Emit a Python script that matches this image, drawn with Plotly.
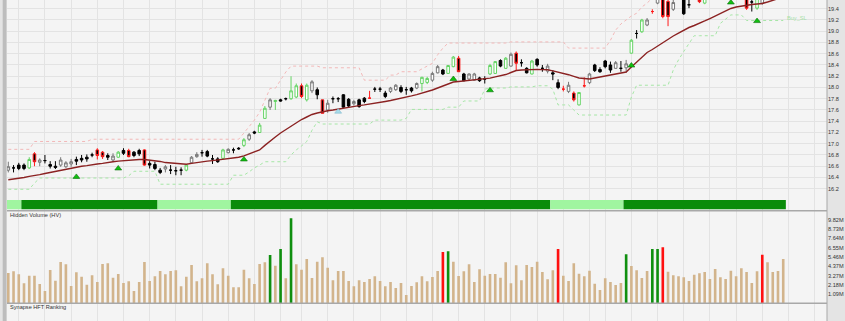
import plotly.graph_objects as go

# ---------------- data ----------------
opens = [16.53,16.57,16.62,16.62,16.57,16.82,16.67,16.70,16.63,16.60,
         16.62,16.59,16.64,16.72,16.74,16.76,16.80,16.89,16.85,16.79,
         16.71,16.76,16.88,16.88,16.85,16.88,16.89,16.65,16.63,16.53,
         16.55,16.53,16.52,16.53,16.53,16.66,16.77,16.84,16.86,16.73,
         16.73,16.74,16.84,16.89,16.92,16.97,17.08,17.21,17.20,17.45,
         17.65,17.75,17.78,17.80,17.80,17.83,18.03,17.78,17.94,17.96,
         17.78,17.60,17.80,17.80,17.87,17.79,17.71,17.78,17.81,17.81,
         17.97,17.97,17.90,17.93,17.96,18.00,17.96,17.99,17.99,18.07,
         18.09,18.13,18.26,18.31,18.25,18.37,18.52,18.24,18.15,18.13,
         18.17,18.15,18.24,18.25,18.48,18.34,18.38,18.61,18.44,18.34,
         18.24,18.50,18.34,18.29,18.26,18.085,17.97,17.93,17.90,17.69,
         18.03,18.085,18.40,18.32,18.47,18.40,18.34,18.34,18.35,18.61,
         18.96,18.99,19.11,19.35,19.50,19.61,19.53,19.39,19.59,19.64,
         19.47,19.64,19.70,19.50,19.73,19.875,19.80,19.70,19.77,19.80,
         19.84,19.66,19.52,19.41,19.50,19.63,19.80,19.70,19.77]
highs = [16.68,16.62,16.66,16.65,16.76,16.85,16.74,16.80,16.69,16.69,
         16.76,16.69,16.73,16.77,16.80,16.81,16.84,16.92,16.87,16.83,
         16.83,16.87,16.92,16.91,16.87,16.91,16.90,16.69,16.68,16.57,
         16.62,16.62,16.59,16.58,16.64,16.78,16.85,16.89,16.89,16.80,
         16.76,16.91,16.92,16.93,16.94,17.10,17.19,17.23,17.37,17.67,
         17.81,17.78,17.80,17.82,18.20,18.07,18.07,18.07,18.13,18.00,
         17.78,17.78,17.84,17.83,17.88,17.81,17.78,17.80,17.83,17.94,
         18.01,18.01,17.94,18.01,18.06,18.04,18.01,18.01,18.09,18.19,
         18.19,18.28,18.40,18.33,18.40,18.56,18.56,18.26,18.25,18.26,
         18.19,18.20,18.42,18.47,18.50,18.54,18.62,18.64,18.50,18.36,
         18.49,18.52,18.40,18.42,18.31,18.145,18.03,18.10,17.93,17.92,
         18.18,18.26,18.42,18.36,18.49,18.46,18.47,18.47,18.49,18.86,
         19.02,19.22,19.235,19.39,19.70,19.66,19.59,19.555,19.80,19.70,
         19.61,19.875,19.73,19.73,19.98,19.95,20.02,19.95,20.02,19.98,
         19.91,19.73,19.66,19.70,19.70,19.84,19.875,19.95,20.02]
lows = [16.49,16.49,16.53,16.53,16.55,16.60,16.60,16.65,16.56,16.55,
        16.59,16.57,16.59,16.62,16.67,16.68,16.76,16.72,16.73,16.71,
        16.68,16.75,16.80,16.76,16.76,16.78,16.61,16.56,16.53,16.46,
        16.49,16.46,16.44,16.44,16.51,16.64,16.75,16.77,16.76,16.64,
        16.66,16.73,16.83,16.83,16.89,16.94,17.05,17.17,17.19,17.44,
        17.60,17.60,17.75,17.77,17.78,17.81,17.81,17.75,17.90,17.79,
        17.54,17.55,17.72,17.74,17.64,17.65,17.68,17.64,17.72,17.80,
        17.92,17.92,17.81,17.90,17.94,17.90,17.87,17.91,17.97,17.93,
        18.06,18.10,18.25,18.22,18.24,18.36,18.28,18.11,18.12,18.12,
        18.10,18.07,18.22,18.24,18.36,18.33,18.37,18.31,18.37,18.25,
        18.23,18.37,18.28,18.25,18.13,17.97,17.93,17.90,17.75,17.68,
        18.00,18.06,18.275,18.26,18.34,18.26,18.33,18.28,18.26,18.60,
        18.87,18.97,19.09,19.31,19.48,19.23,19.09,19.36,19.555,19.29,
        19.41,19.59,19.50,19.48,19.66,19.70,19.73,19.62,19.70,19.73,
        19.62,19.38,19.35,19.38,19.47,19.59,19.63,19.64,19.70]
closes = [16.59,16.57,16.56,16.56,16.72,16.68,16.71,16.70,16.60,16.58,
          16.71,16.66,16.68,16.69,16.71,16.73,16.80,16.79,16.77,16.76,
          16.78,16.85,16.83,16.77,16.79,16.82,16.62,16.62,16.56,16.49,
          16.59,16.53,16.52,16.53,16.62,16.76,16.81,16.84,16.78,16.73,
          16.68,16.89,16.90,16.89,16.91,17.07,17.16,17.19,17.33,17.63,
          17.78,17.77,17.76,17.80,17.94,18.03,17.84,18.04,18.10,17.87,
          17.54,17.72,17.80,17.80,17.65,17.67,17.75,17.66,17.75,17.81,
          17.97,17.97,17.84,17.99,18.04,17.93,17.96,17.94,18.07,18.18,
          18.16,18.25,18.37,18.24,18.39,18.54,18.28,18.12,18.24,18.24,
          18.12,18.15,18.39,18.46,18.38,18.52,18.59,18.43,18.44,18.26,
          18.47,18.40,18.34,18.38,18.24,18.00,17.97,18.04,17.78,17.91,
          18.03,18.24,18.30,18.28,18.37,18.31,18.44,18.34,18.42,18.84,
          18.96,19.20,19.20,19.35,19.64,19.26,19.26,19.51,19.73,19.31,
          19.47,19.82,19.525,19.70,19.91,19.77,19.95,19.91,19.98,19.91,
          19.70,19.41,19.52,19.66,19.63,19.77,19.66,19.875,19.95]
# candle style: U up, G up (signal), D down, X doji, R down (signal), RX doji (signal)
candle_style = ["U","X","D","D","G","R","U","X","D","D",
                "U","U","U","D","D","D","X","R","R","D",
                "U","G","D","R","D","D","R","D","D","D",
                "U","X","X","X","G","U","U","X","D","X",
                "D","G","U","X","D","G","U","D","G","G",
                "U","G","D","X","G","G","R","G","U","D",
                "R","U","X","X","D","D","U","D","D","RX",
                "X","X","D","U","U","D","X","D","U","G",
                "G","U","U","D","G","G","R","D","U","U",
                "D","X","G","G","D","G","U","R","X","D",
                "G","D","X","U","D","D","RX","U","R","G",
                "RX","U","D","D","D","D","U","X","U","G",
                "X","G","U","RX","U","R","R","U","U","D",
                "X","U","R","G","U","D","U","G","G","U",
                "D","R","X","G","U","U","D","U","U"]
moving_avg = [16.36,16.37,16.39,16.40,16.42,16.43,16.45,16.47,16.49,16.51,
              16.52,16.54,16.56,16.58,16.60,16.61,16.63,16.64,16.65,16.67,
              16.68,16.69,16.70,16.705,16.715,16.72,16.72,16.71,16.70,16.685,
              16.665,16.655,16.645,16.635,16.635,16.65,16.665,16.685,16.69,16.70,
              16.71,16.72,16.73,16.74,16.76,16.785,16.817,16.85,16.89,16.97,
              17.05,17.12,17.19,17.253,17.315,17.374,17.43,17.475,17.52,17.546,
              17.573,17.587,17.60,17.617,17.635,17.653,17.665,17.678,17.69,17.703,
              17.715,17.733,17.751,17.768,17.786,17.804,17.827,17.85,17.873,17.896,
              17.919,17.955,17.99,18.026,18.062,18.097,18.106,18.115,18.124,18.131,
              18.138,18.145,18.167,18.188,18.209,18.23,18.266,18.302,18.311,18.318,
              18.323,18.321,18.318,18.314,18.296,18.277,18.257,18.227,18.198,18.168,
              18.159,18.15,18.168,18.186,18.20,18.216,18.23,18.252,18.275,18.364,
              18.453,18.542,18.622,18.675,18.737,18.80,18.862,18.915,18.968,19.022,
              19.066,19.102,19.137,19.182,19.226,19.271,19.315,19.359,19.404,19.431,
              19.448,19.466,19.475,19.484,19.493,19.519,19.546,19.573,19.608]
upper_stop = [16.90,16.90,16.90,16.90,16.90,17.04,17.04,17.04,17.04,17.04,
              17.04,17.04,17.04,17.04,17.04,17.04,17.08,17.08,17.08,17.08,
              17.08,17.08,17.08,17.08,17.08,17.08,17.08,17.08,17.08,17.08,
              17.08,17.08,17.08,17.08,17.08,17.08,17.08,17.08,17.08,17.08,
              17.08,17.08,17.08,17.08,17.08,17.19,17.30,17.42,17.56,17.78,
              17.985,17.985,18.13,18.275,18.38,18.38,18.38,18.38,18.38,18.38,
              18.35,18.35,18.35,18.35,18.35,18.35,18.35,18.35,18.13,18.13,
              18.13,18.13,18.13,18.22,18.22,18.28,18.28,18.28,18.28,18.33,
              18.38,18.43,18.58,18.70,18.79,18.79,18.79,18.79,18.79,18.79,
              18.79,18.79,18.79,18.79,18.79,18.79,18.81,18.81,18.81,18.81,
              18.81,18.81,18.81,18.81,18.81,18.81,18.81,18.70,18.70,18.70,
              18.70,18.70,18.70,18.70,18.70,18.84,19.02,19.13,19.20,19.27,
              19.32,19.43,19.50,19.59,19.65,19.72,None,None,None,None,
              None,None,None,None,None,None,None,None,None,None,
              None,None,None,None,None,None,None,None,None]
buy_sl = [16.19,16.19,16.19,16.19,16.19,16.30,16.39,16.39,16.39,16.39,
          16.39,16.39,16.39,16.39,16.39,16.39,16.39,16.39,16.39,16.39,
          16.39,16.39,16.39,16.43,16.51,16.51,16.51,16.51,16.51,16.28,
          16.28,16.28,16.28,16.28,16.28,16.28,16.28,16.28,16.28,16.28,
          16.28,16.28,16.28,16.44,16.44,16.44,16.50,16.57,16.62,16.68,
          16.68,16.68,16.68,16.68,16.80,16.89,16.96,17.04,17.24,17.39,
          17.35,17.35,17.35,17.35,17.35,17.35,17.35,17.35,17.35,17.35,
          17.42,17.42,17.42,17.42,17.42,17.42,17.45,17.61,17.61,17.61,
          17.61,17.61,17.61,17.61,17.65,17.65,17.65,17.76,17.76,17.76,
          17.76,17.97,17.99,17.99,17.99,17.99,18.01,18.01,18.01,18.01,
          18.01,18.03,18.03,18.03,17.97,17.69,17.69,17.69,17.60,17.51,
          17.51,17.51,17.51,17.51,17.51,17.51,17.51,17.51,17.51,17.83,
          18.04,18.04,18.04,18.04,18.04,18.04,18.04,18.31,18.49,18.64,
          18.77,18.92,18.92,18.92,18.92,18.92,19.14,19.22,19.29,19.29,
          19.29,19.19,19.19,19.19,19.19,19.19,19.19,19.19,19.19]
buy_arrow_idx = [13, 21, 45, 85, 92, 119, 138, 143]
buy_arrow_px = [16.41, 16.56, 16.72, 18.15, 17.95, 18.39, 19.51, 19.18]
alt_arrow_idx = [63]
alt_arrow_px = [17.57]
volume_m = [3.57,3.77,3.42,2.36,3.26,3.26,2.28,1.45,3.93,2.67,
            4.87,4.60,2.04,3.66,3.14,2.19,3.30,2.51,4.64,4.72,
            3.02,3.46,2.39,2.59,1.45,2.51,4.87,2.63,3.18,3.81,
            3.42,3.81,3.89,2.01,3.14,4.52,2.59,2.95,4.72,3.42,
            2.24,4.13,3.26,1.89,1.89,3.96,2.95,2.28,4.64,4.84,
            5.70,4.43,6.40,2.95,10.03,4.60,3.96,5.23,2.98,4.91,
            5.43,4.20,2.71,3.81,3.81,2.63,2.01,2.71,2.51,2.87,
            3.18,2.63,2.01,2.51,1.80,2.39,0.98,2.04,2.48,3.18,
            2.59,3.10,3.81,6.05,6.13,4.91,3.22,3.77,4.60,2.51,
            4.01,3.26,3.46,3.46,3.02,4.84,2.36,4.48,2.71,4.52,
            4.28,4.91,3.69,2.83,3.89,6.40,3.26,2.63,4.72,3.49,
            3.18,3.85,2.31,1.57,2.95,2.51,2.16,2.39,5.78,4.40,
            3.89,2.98,3.81,6.40,6.40,6.61,3.73,3.30,3.18,3.07,
            2.63,3.37,3.54,3.69,2.87,4.05,3.07,2.87,3.85,3.18,
            4.13,3.69,2.39,3.77,5.73,4.84,3.69,3.81,5.23]
vol_green_idx = [50, 52, 54, 84, 118, 123, 124]
vol_red_idx = [83, 105, 125, 144]
band_start = [0, 3, 29, 43, 104, 118]
band_end = [2, 28, 42, 103, 117, 148]
band_strong = [False, True, False, True, False, True]
week_starts = [2, 7, 12, 17, 22, 27, 32, 37, 42, 47, 52, 56, 61, 66, 71, 76, 81,
               86, 91, 96, 101, 106, 111, 114, 119, 124, 129, 134, 139, 144, 149, 154]
price_ticks = ["16.2", "16.4", "16.6", "16.8", "17.0", "17.2", "17.4", "17.6", "17.8",
               "18.0", "18.2", "18.4", "18.6", "18.8", "19.0", "19.2", "19.4"]
volume_ticks = ["1.09M", "2.18M", "3.27M", "4.37M", "5.46M", "6.55M", "7.64M", "8.73M", "9.82M"]
hft_ticks = ["100"]

# ---------------- layout geometry (pixels) ----------------
W, H = 845, 321
PL, PR = 7, 827            # plot area left / right
BAR0, BAR_STEP = 8.3, 5.236
PX_PER_UNIT = 56.25
PRICE_TOP = 19.555
Y_PRICE_BOT = 210.75
Y_VOL_BOT = 303.3
BAND_TOP, BAND_BOT = 200, 209.5
VOL_MAX = 10.915

def fy(px):
    return 1 - px / H

n = len(opens)
idx = list(range(n))

FONT = "Liberation Sans, Arial, sans-serif"
TXT = "#333333"

fig = go.Figure()

# band (trend strip): one bar per run
band_x = [(s + e) / 2 for s, e in zip(band_start, band_end)]
band_w = [e - s + 1 for s, e in zip(band_start, band_end)]
band_col = ["#0a8c0a" if st else "#a0f5a0" for st in band_strong]
fig.add_trace(go.Bar(x=band_x, y=[1] * len(band_x), width=band_w,
                     marker=dict(color=band_col, line=dict(width=0)),
                     yaxis="y4", hoverinfo="skip", showlegend=False))

# stop lines
fig.add_trace(go.Scatter(x=idx, y=upper_stop, mode="lines",
                         line=dict(color="#f2b8b8", width=1, dash="3px,3px"),
                         hoverinfo="skip", showlegend=False))
fig.add_trace(go.Scatter(x=idx, y=buy_sl, mode="lines",
                         line=dict(color="#a6e6a6", width=1, dash="3px,3px"),
                         hoverinfo="skip", showlegend=False))
# moving average
fig.add_trace(go.Scatter(x=idx, y=moving_avg, mode="lines",
                         line=dict(color="#8b2222", width=1.4),
                         hoverinfo="skip", showlegend=False))

# candles, one trace per colour style
styles = {
    "U": ("#ffffff", "#777777", ["U"]),
    "G": ("#ffffff", "#66d466", ["G"]),
    "D": ("#000000", "#000000", ["D", "X"]),
    "R": ("#000000", "#ff1a1a", ["R", "RX"]),
}
for key, (fill, line, members) in styles.items():
    sel = [s in members for s in candle_style]
    o = [v if m else None for v, m in zip(opens, sel)]
    h = [v if m else None for v, m in zip(highs, sel)]
    l = [v if m else None for v, m in zip(lows, sel)]
    c = [v if m else None for v, m in zip(closes, sel)]
    side = dict(line=dict(color=line, width=1), fillcolor=fill)
    fig.add_trace(go.Candlestick(x=idx, open=o, high=h, low=l, close=c,
                                 increasing=side, decreasing=side, whiskerwidth=0,
                                 hoverinfo="skip", showlegend=False))

# arrows
fig.add_trace(go.Scatter(x=buy_arrow_idx, y=buy_arrow_px, mode="markers",
                         marker=dict(symbol="triangle-up", size=6, color="#10c010",
                                     line=dict(color="#0a700a", width=0.6)),
                         hoverinfo="skip", showlegend=False))
fig.add_trace(go.Scatter(x=alt_arrow_idx, y=alt_arrow_px, mode="markers",
                         marker=dict(symbol="triangle-up", size=6, color="#a8dcea",
                                     line=dict(color="#80b8cc", width=0.6)),
                         hoverinfo="skip", showlegend=False))

# volume
vcol = ["#d2b48c"] * n
for k in vol_green_idx:
    vcol[k] = "#0f8f0f"
for k in vol_red_idx:
    vcol[k] = "#ff1010"
fig.add_trace(go.Bar(x=idx, y=volume_m, width=0.5, marker=dict(color=vcol, line=dict(width=0)),
                     yaxis="y2", hoverinfo="skip", showlegend=False))

# empty HFT panel
fig.add_trace(go.Scatter(x=[None], y=[None], yaxis="y3", showlegend=False))

price_vals = [float(t) for t in price_ticks]
vol_vals = [float(t[:-1]) for t in volume_ticks]
hft_vals = [float(t) for t in hft_ticks]

yax_common = dict(side="right", anchor="x", ticks="", showline=False, zeroline=False,
                  tickfont=dict(size=5.6, color=TXT, family=FONT))
GRID = "#e3e3e3"

shapes = [
    dict(type="line", xref="paper", yref="paper", x0=0, x1=1, y0=fy(Y_PRICE_BOT), y1=fy(Y_PRICE_BOT),
         line=dict(color="#a8a8a8", width=1.5)),
    dict(type="line", xref="paper", yref="paper", x0=0, x1=1, y0=fy(Y_VOL_BOT), y1=fy(Y_VOL_BOT),
         line=dict(color="#a8a8a8", width=1.5)),
    dict(type="line", xref="paper", yref="paper", x0=1, x1=1, y0=0, y1=1,
         line=dict(color="#a8a8a8", width=1)),
    dict(type="rect", xref="paper", yref="paper", x0=-4.3 / (PR - PL), x1=-0.5 / (PR - PL), y0=0, y1=1,
         fillcolor="#bdbdbd", line=dict(width=0)),
]

annotations = [
    dict(text="Hidden Volume (HV)", xref="paper", yref="paper", x=1 / (PR - PL), y=fy(214.5),
         xanchor="left", yanchor="middle", showarrow=False, font=dict(size=5.6, color=TXT, family=FONT)),
    dict(text="Synapse HFT Ranking", xref="paper", yref="paper", x=1 / (PR - PL), y=fy(307.3),
         xanchor="left", yanchor="middle", showarrow=False, font=dict(size=5.6, color=TXT, family=FONT)),
    dict(text="Buy_SL", xref="x", yref="y", x=n - 0.7, y=19.23, xanchor="left", yanchor="middle",
         showarrow=False, font=dict(size=5.6, color="#a6e0a6", family=FONT)),
]

fig.update_layout(
    width=W, height=H,
    margin=dict(l=PL, r=W - PR, t=0, b=0, pad=0),
    paper_bgcolor="#e4e4e4", plot_bgcolor="#f4f4f4",
    font=dict(family=FONT, size=6, color=TXT),
    showlegend=False, barmode="overlay",
    xaxis=dict(domain=[0, 1], range=[(PL - BAR0) / BAR_STEP, (PR - BAR0) / BAR_STEP],
               tickvals=week_starts, showticklabels=False, ticks="", showgrid=True,
               gridcolor=GRID, gridwidth=1, zeroline=False, showline=False,
               rangeslider=dict(visible=False), anchor="y3"),
    yaxis=dict(domain=[fy(Y_PRICE_BOT), 1],
               range=[PRICE_TOP - Y_PRICE_BOT / PX_PER_UNIT, PRICE_TOP],
               tickvals=price_vals, ticktext=price_ticks, showgrid=True, gridcolor=GRID,
               **yax_common),
    yaxis2=dict(domain=[fy(Y_VOL_BOT), fy(Y_PRICE_BOT)], range=[0, VOL_MAX],
                tickvals=vol_vals, ticktext=volume_ticks, showgrid=False, **yax_common),
    yaxis3=dict(domain=[0, fy(Y_VOL_BOT)], range=[99.5, 110],
                tickvals=hft_vals, ticktext=hft_ticks, showgrid=False, **yax_common),
    yaxis4=dict(domain=[fy(BAND_BOT), fy(BAND_TOP)], range=[0, 1], showgrid=False,
                showticklabels=False, **yax_common),
    shapes=shapes, annotations=annotations,
)

fig.write_html("out.html")
